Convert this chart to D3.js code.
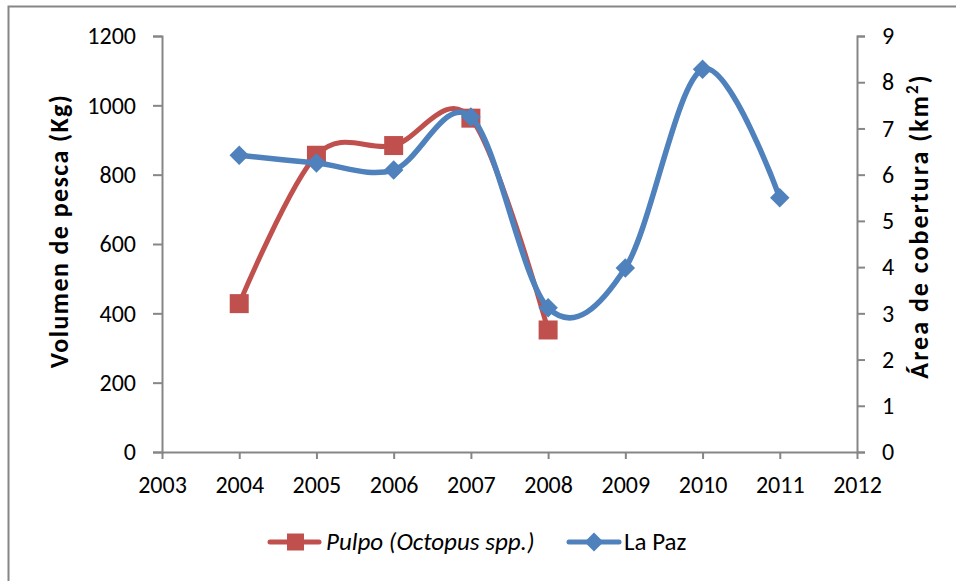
<!DOCTYPE html>
<html>
<head>
<meta charset="utf-8">
<script src="https://cdn.jsdelivr.net/npm/d3@7"></script>
<style>
  body { margin: 0; background: #fff; }
  svg { font-family: Calibri, Carlito, Lato, "Open Sans", sans-serif; }
</style>
</head>
<body>
<svg id="chart"></svg>
<script>
// data
const years = [2004, 2005, 2006, 2007, 2008, 2009, 2010, 2011];
const pulpoYears = [2004, 2005, 2006, 2007, 2008];
const pulpoKg = [428, 856, 884, 963, 352];
const laPazKm2 = [6.42, 6.25, 6.1, 7.25, 3.12, 3.98, 8.28, 5.5];
const xTicks = d3.range(2003, 2013);
const leftTicks = [0, 200, 400, 600, 800, 1000, 1200];
const rightTicks = d3.range(0, 10);

const red = "#C0504D";
const blue = "#4F81BD";
const axisGrey = "#868686";
const fontFam = "Calibri, Carlito, Lato, sans-serif";

const width = 956;
const height = 581;
const svg = d3.select("#chart")
    .attr("width", width)
    .attr("height", height);

// frame of the chart area (only left/top edges are visible in the crop)
svg.append("rect")
    .attr("x", 8.5)
    .attr("y", 6.5)
    .attr("width", 1000)
    .attr("height", 1000)
    .attr("fill", "none")
    .attr("stroke", axisGrey)
    .attr("stroke-width", 2);

const x = d3.scaleLinear().domain([2003, 2012]).range([162, 857]);
const yL = d3.scaleLinear().domain([0, 1200]).range([452, 36]);
const yR = d3.scaleLinear().domain([0, 9]).range([452, 36]);

const axisStyle = g => {
    g.attr("font-size", 24).attr("font-family", fontFam);
    g.selectAll("path, line").attr("stroke", axisGrey).attr("stroke-width", 2);
    g.selectAll("text").attr("fill", "#000");
};

svg.append("g")
    .attr("transform", `translate(162,0)`)
    .call(d3.axisLeft(yL).tickValues(leftTicks).tickFormat(d3.format("d"))
        .tickSize(9).tickSizeOuter(9).tickPadding(17))
    .call(axisStyle);

svg.append("g")
    .attr("transform", `translate(857,0)`)
    .call(d3.axisRight(yR).tickValues(rightTicks).tickSize(8).tickSizeOuter(8).tickPadding(17))
    .call(axisStyle);

svg.append("g")
    .attr("transform", `translate(0,452)`)
    .call(d3.axisBottom(x).tickValues(xTicks).tickFormat(d3.format("d"))
        .tickSize(7).tickSizeOuter(0).tickPadding(17))
    .call(axisStyle);

// axis titles
svg.append("text")
    .attr("transform", "translate(68,231) rotate(-90)")
    .attr("text-anchor", "middle")
    .attr("font-size", 26)
    .attr("font-weight", "bold")
    .attr("letter-spacing", 1.4)
    .text("Volumen de pesca (Kg)");

const rt = svg.append("text")
    .attr("transform", "translate(928,226) rotate(-90)")
    .attr("text-anchor", "middle")
    .attr("font-size", 26)
    .attr("font-weight", "bold")
    .attr("letter-spacing", 2);
rt.append("tspan").text("Área de cobertura (km");
rt.append("tspan").attr("baseline-shift", "super").attr("font-size", 17).text("2");
rt.append("tspan").text(")");

const curve = d3.curveCatmullRom.alpha(0);

const pulpo = pulpoYears.map((yr, i) => ({ x: yr, y: pulpoKg[i] }));
const laPaz = years.map((yr, i) => ({ x: yr, y: laPazKm2[i] }));

svg.append("path")
    .datum(pulpo)
    .attr("fill", "none")
    .attr("stroke", red)
    .attr("stroke-width", 5)
    .attr("d", d3.line().x(d => x(d.x)).y(d => yL(d.y)).curve(curve));

svg.append("g").selectAll("path")
    .data(pulpo)
    .enter()
    .append("path")
    .attr("transform", d => `translate(${x(d.x)},${yL(d.y)})`)
    .attr("d", d3.symbol(d3.symbolSquare, 361))
    .attr("fill", red);

svg.append("path")
    .datum(laPaz)
    .attr("fill", "none")
    .attr("stroke", blue)
    .attr("stroke-width", 5.5)
    .attr("d", d3.line().x(d => x(d.x)).y(d => yR(d.y)).curve(curve));

svg.append("g").selectAll("path")
    .data(laPaz)
    .enter()
    .append("path")
    .attr("transform", d => `translate(${x(d.x)},${yR(d.y)}) rotate(45)`)
    .attr("d", d3.symbol(d3.symbolSquare, 190))
    .attr("fill", blue);

// legend
const legend = svg.append("g").attr("transform", "translate(0,542)");
legend.append("line").attr("x1", 270).attr("x2", 319)
    .attr("stroke", red).attr("stroke-width", 5).attr("stroke-linecap", "round");
legend.append("path").attr("transform", "translate(295.5,0)")
    .attr("d", d3.symbol(d3.symbolSquare, 289)).attr("fill", red);
legend.append("text").attr("x", 326).attr("y", 8)
    .attr("font-size", 25).attr("font-style", "italic")
    .attr("font-family", fontFam)
    .text("Pulpo (Octopus spp.)");

legend.append("line").attr("x1", 569).attr("x2", 619)
    .attr("stroke", blue).attr("stroke-width", 5).attr("stroke-linecap", "round");
legend.append("path").attr("transform", "translate(594,0) rotate(45)")
    .attr("d", d3.symbol(d3.symbolSquare, 180)).attr("fill", blue);
legend.append("text").attr("x", 624).attr("y", 8)
    .attr("font-size", 25)
    .attr("font-family", fontFam)
    .text("La Paz");
</script>
</body>
</html>
